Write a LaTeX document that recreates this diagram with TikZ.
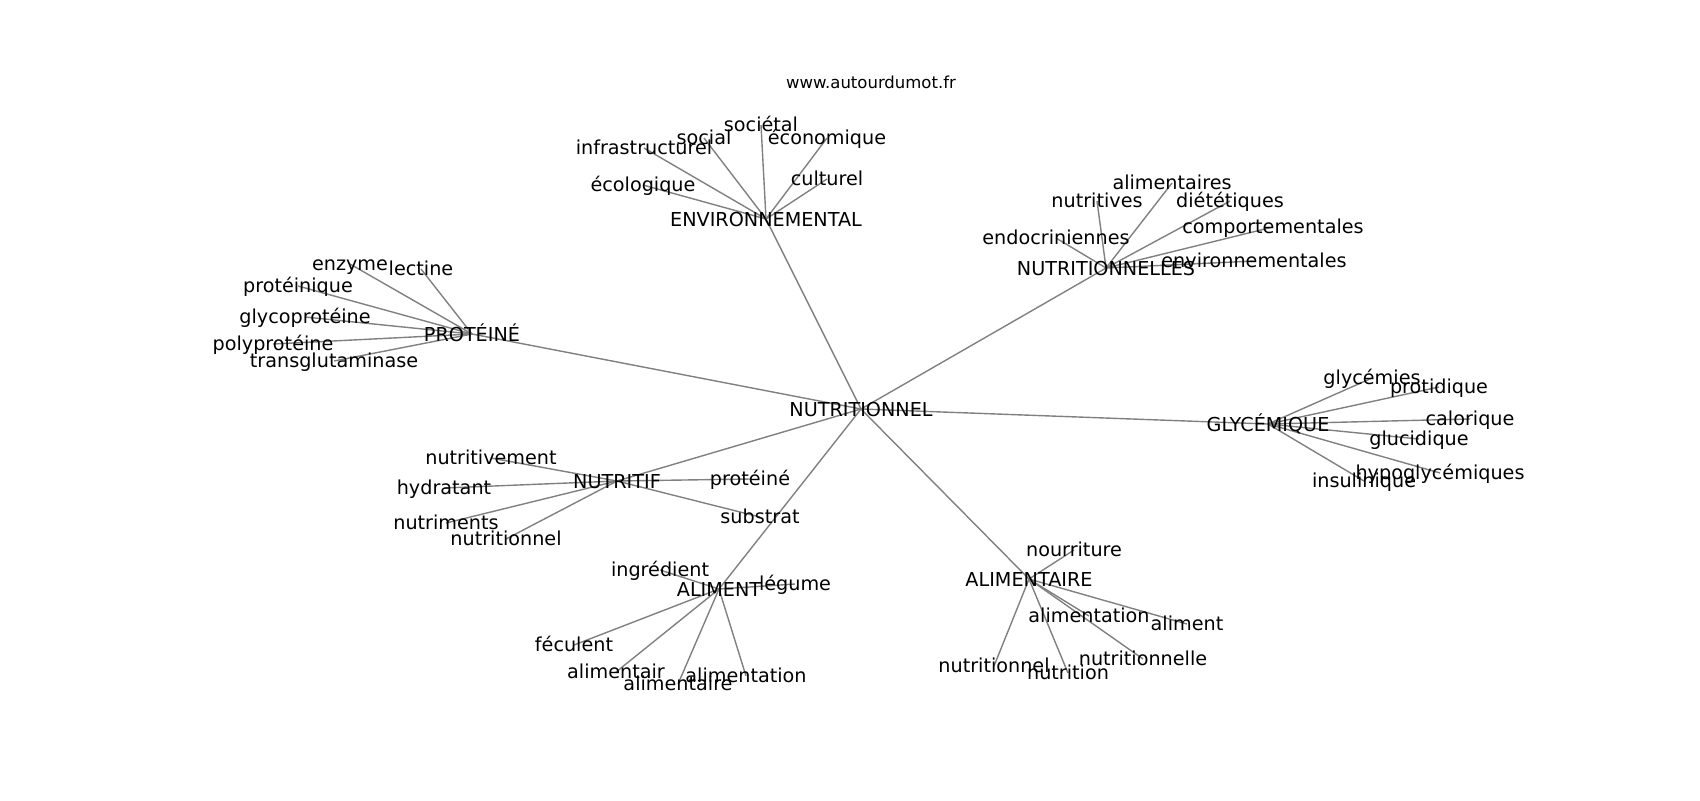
\documentclass[tikz,border=0pt]{standalone}
\usepackage{fontspec}
\setmainfont{DejaVu Sans}
\pgfdeclarelayer{bg}
\pgfsetlayers{bg,main}
\begin{document}
\begin{tikzpicture}[x=0.5pt,y=-0.5pt,
  w/.style={font=\fontsize{9.6}{11.5}\selectfont, inner sep=0pt, text height=0.76em, text depth=0.14em, anchor=center, text=black},
  hub/.style={w, text height=0.78em, text depth=0em},
  site/.style={font=\fontsize{8.25}{10}\selectfont, inner sep=0pt, text height=0.76em, text depth=0.24em, anchor=center, text=black},
  edge/.style={draw=gray, line width=0.7pt}]
\useasboundingbox (0,0) rectangle (1700,800);
\node[site] (site) at (871,83) {www.autourdumot.fr};
% hubs
\node[hub] (c)   at (861,409) {NUTRITIONNEL};
\node[hub] (env) at (766,219) {ENVIRONNEMENTAL};
\node[hub] (pro) at (472,334) {PROTÉINÉ};
\node[hub] (nls) at (1106,268) {NUTRITIONNELLES};
\node[hub] (gly) at (1268,424) {GLYCÉMIQUE};
\node[hub] (nf)  at (617,481) {NUTRITIF};
\node[hub] (alt) at (719,589) {ALIMENT};
\node[hub] (ale) at (1029,579) {ALIMENTAIRE};
% environnemental
\node[w] (e1) at (761,125) {sociétal};
\node[w] (e2) at (704,138) {social};
\node[w] (e3) at (827,138) {économique};
\node[w] (e4) at (644,148) {infrastructurel};
\node[w] (e5) at (643,185) {écologique};
\node[w] (e6) at (827,179) {culturel};
% proteine
\node[w] (p1) at (350,264) {enzyme};
\node[w] (p2) at (421,269) {lectine};
\node[w] (p3) at (298,286) {protéinique};
\node[w] (p4) at (305,317) {glycoprotéine};
\node[w] (p5) at (273,344) {polyprotéine};
\node[w] (p6) at (334,361) {transglutaminase};
% nutritionnelles
\node[w] (n1) at (1172,183) {alimentaires};
\node[w] (n2) at (1097,201) {nutritives};
\node[w] (n3) at (1230,201) {diététiques};
\node[w] (n4) at (1273,227) {comportementales};
\node[w] (n5) at (1056,238) {endocriniennes};
\node[w] (n6) at (1254,261) {environnementales};
% glycemique
\node[w] (g1) at (1372,378) {glycémies};
\node[w] (g2) at (1439,387) {protidique};
\node[w] (g3) at (1470,419) {calorique};
\node[w] (g4) at (1419,439) {glucidique};
\node[w] (g5) at (1440,473) {hypoglycémiques};
\node[w] (g6) at (1364,481) {insulinique};
% nutritif
\node[w] (f1) at (491,458) {nutritivement};
\node[w] (f2) at (444,488) {hydratant};
\node[w] (f3) at (446,523) {nutriments};
\node[w] (f4) at (506,539) {nutritionnel};
\node[w] (f5) at (750,479) {protéiné};
\node[w] (f6) at (760,517) {substrat};
% aliment
\node[w] (a1) at (660,570) {ingrédient};
\node[w] (a2) at (795,584) {légume};
\node[w] (a3) at (574,645) {féculent};
\node[w] (a4) at (616,672) {alimentair};
\node[w] (a5) at (678,684) {alimentaire};
\node[w] (a6) at (746,676) {alimentation};
% alimentaire
\node[w] (b1) at (1074,550) {nourriture};
\node[w] (b2) at (1089,616) {alimentation};
\node[w] (b3) at (1187,624) {aliment};
\node[w] (b4) at (1143,659) {nutritionnelle};
\node[w] (b5) at (994,666) {nutritionnel};
\node[w] (b6) at (1068,673) {nutrition};
\begin{pgfonlayer}{bg}
\foreach \h in {env,pro,nls,gly,nf,alt,ale} \draw[edge] (c.center) -- (\h.center);
\foreach \l in {e1,e2,e3,e4,e5,e6} \draw[edge] (env.center) -- (\l.center);
\foreach \l in {p1,p2,p3,p4,p5,p6} \draw[edge] (pro.center) -- (\l.center);
\foreach \l in {n1,n2,n3,n4,n5,n6} \draw[edge] (nls.center) -- (\l.center);
\foreach \l in {g1,g2,g3,g4,g5,g6} \draw[edge] (gly.center) -- (\l.center);
\foreach \l in {f1,f2,f3,f4,f5,f6} \draw[edge] (nf.center) -- (\l.center);
\foreach \l in {a1,a2,a3,a4,a5,a6} \draw[edge] (alt.center) -- (\l.center);
\foreach \l in {b1,b2,b3,b4,b5,b6} \draw[edge] (ale.center) -- (\l.center);
\end{pgfonlayer}
\end{tikzpicture}
\end{document}
